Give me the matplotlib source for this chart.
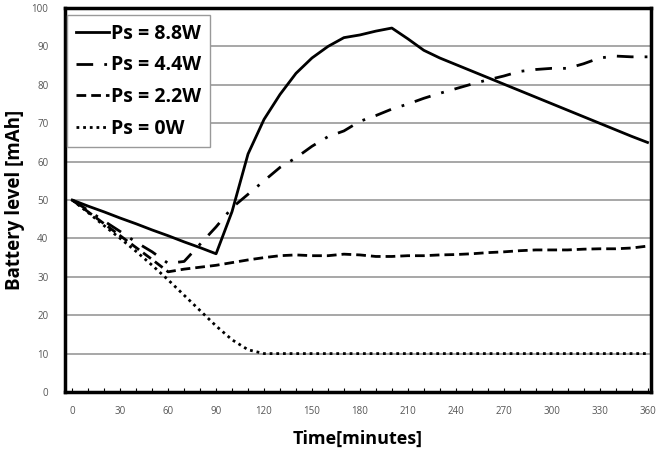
import matplotlib
matplotlib.use('Agg')
import numpy as np
import matplotlib.pyplot as plt

plt.rcParams['font.family'] = ['Open Sans', 'DejaVu Sans']

# 时间轴 (分钟)
t = [0, 10, 20, 30, 40, 50, 60, 70, 80, 90, 100, 110, 120, 130, 140, 150, 160, 170, 180,
     190, 200, 210, 220, 230, 240, 250, 260, 270, 280, 290, 300, 310, 320, 330, 340, 350, 360]

ps_88 = [50, 48.4, 46.9, 45.3, 43.8, 42.2, 40.7, 39.1, 37.6, 36, 47, 62, 71, 77.5, 83, 87, 90,
         92.3, 93, 94, 94.8, 92, 89, 87, 85.3, 83.6, 81.9, 80.2, 78.5, 76.8, 75.1, 73.4, 71.7,
         70, 68.3, 66.6, 65]
ps_44 = [50, 47.3, 44.5, 41.8, 39, 36.5, 33.5, 34, 38.5, 43, 48, 51.5, 55, 58.5, 61, 64, 66.5,
         68, 70.5, 72, 73.7, 75, 76.5, 77.8, 79, 80.2, 81.3, 82.3, 83.5, 84, 84.3, 84.3, 85.5,
         87, 87.5, 87.3, 87.3]
ps_22 = [50, 46.9, 43.8, 40.7, 37.6, 34.5, 31.3, 32, 32.5, 33, 33.7, 34.4, 35, 35.5, 35.7, 35.5,
         35.5, 35.9, 35.7, 35.3, 35.3, 35.5, 35.5, 35.7, 35.8, 36, 36.3, 36.5, 36.8, 37, 37, 37,
         37.2, 37.3, 37.3, 37.5, 38]
ps_0 = [50, 46.7, 43.3, 40, 36.6, 33, 29.2, 25.2, 21.2, 17.2, 13.6, 11, 10, 10, 10, 10, 10, 10,
        10, 10, 10, 10, 10, 10, 10, 10, 10, 10, 10, 10, 10, 10, 10, 10, 10, 10, 10]

labels = ['Ps = 8.8W', 'Ps = 4.4W', 'Ps = 2.2W', 'Ps = 0W']
styles = ['-', (0, (6, 4, 1, 4)), (0, (3.5, 1.8)), (0, (1, 1.4))]

fig = plt.figure(figsize=(6.64, 4.49), dpi=100)
ax = fig.add_axes([0.098, 0.127, 0.882, 0.855])

for y, lab, ls in zip([ps_88, ps_44, ps_22, ps_0], labels, styles):
    ax.plot(t, y, color='black', lw=2, linestyle=ls, label=lab)

ax.set_xlim(-4.5, 362)
ax.set_ylim(0, 100)
ax.set_xticks(np.arange(0, 361, 30))
ax.set_xticks(np.arange(0, 361, 10), minor=True)
ax.set_yticks(np.arange(0, 101, 10))
ax.yaxis.grid(True, color='#a0a0a0', lw=1.3)
ax.set_axisbelow(True)

for s in ax.spines.values():
    s.set_linewidth(2.5)
ax.tick_params(axis='x', which='both', direction='in', length=3, width=0.8,
               labelsize=7, labelcolor='#555555', pad=10)
ax.tick_params(axis='y', length=0, labelsize=7, labelcolor='#555555', pad=12)

ax.set_xlabel('Time[minutes]', fontsize=13, fontweight='bold', labelpad=9)
ax.set_ylabel('Battery level [mAh]', fontsize=13.5, fontweight='bold', labelpad=5)

leg = ax.legend(loc='upper left', bbox_to_anchor=(0.004, 0.982), borderaxespad=0,
                fontsize=14, handlelength=1.7, handletextpad=0.1, labelspacing=0.6,
                borderpad=0.45, fancybox=False, framealpha=1)
leg.get_frame().set_edgecolor('#999999')
leg.get_frame().set_linewidth(1)
for txt in leg.get_texts():
    txt.set_fontweight('bold')

fig.savefig('out.png', dpi=100)
